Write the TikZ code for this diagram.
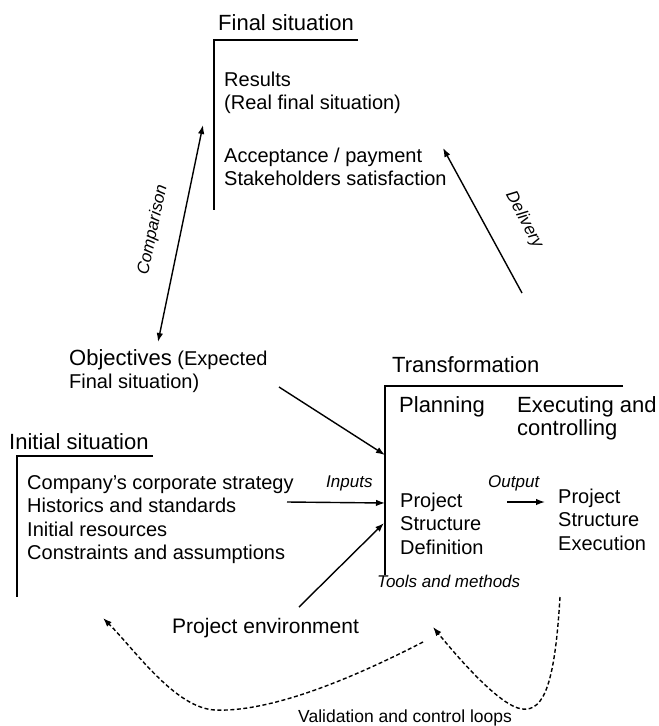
\documentclass[tikz,border=0pt]{standalone}
\usepackage{fontspec}
\setmainfont{Liberation Sans}
\usetikzlibrary{arrows.meta}

% lines of a text block, first baseline at the node's base
\newcommand\txtlines[1]{\begin{tabular}[t]{@{}l@{}}#1\end{tabular}}

\tikzset{
  head/.style={font=\fontsize{22}{26}\selectfont},
  body/.style={font=\fontsize{20}{23.5}\selectfont},
  lbl/.style={font=\fontsize{17}{20}\selectfont\itshape, inner sep=0pt},
  txt/.style={inner sep=0pt, anchor=base west},
  frame/.style={line width=1.3pt},
  flow/.style={line width=1.4pt, -{Latex[length=9pt,width=6.5pt]}},
  loopback/.style={line width=1.4pt, dash pattern=on 4pt off 2.5pt, -{Latex[length=9pt,width=6.5pt]}},
}

\begin{document}
\begin{tikzpicture}[x=1pt,y=-1pt]
    \useasboundingbox[fill=white] (0,0) rectangle (659,726);

    % final situation
    \node[txt,head] (fintitle) at (218,30) {Final situation};
    \coordinate (finC) at (214,40);
    \coordinate (finE) at (358,40);
    \coordinate (finB) at (214,210);
    \draw[frame] (finE) -- (finC) -- (finB);
    \node[txt,body] (results) at (224,86) {\txtlines{Results\\(Real final situation)}};
    \node[txt,body] (accept) at (224,162) {\txtlines{Acceptance / payment\\Stakeholders satisfaction}};

    % objectives
    \node[txt,body] (obj) at (69,365) {\txtlines{{\fontsize{22}{26}\selectfont Objectives} (Expected\\Final situation)}};

    % comparison and delivery
    \coordinate (cmpT) at (203,125);
    \coordinate (cmpB) at (158,342);
    \draw[line width=1.4pt, {Latex[length=9pt,width=6.5pt]}-{Latex[length=9pt,width=6.5pt]}] (cmpB) -- (cmpT);
    \node[lbl, rotate=78] (cmp) at (153,230) {Comparison};
    \coordinate (dlvS) at (522,293);
    \coordinate (dlvE) at (443,148);
    \draw[flow] (dlvS) -- (dlvE);
    \node[lbl, rotate=-62] (dlv) at (524,220) {Delivery};

    % transformation
    \node[txt,head] (trftitle) at (392,372) {Transformation};
    \coordinate (trfC) at (385,386);
    \coordinate (trfE) at (623,386);
    \coordinate (trfB) at (385,575);
    \draw[frame] (trfE) -- (trfC) -- (trfB);
    \node[txt,head] (plan) at (399,412) {Planning};
    \node[txt,font=\fontsize{22}{23.5}\selectfont] (exec) at (517,412) {\txtlines{Executing and\\controlling}};
    \node[txt,body] (psd) at (400,507) {\txtlines{Project\\Structure\\Definition}};
    \node[txt,body] (pse) at (558,503) {\txtlines{Project\\Structure\\Execution}};
    \node[txt,lbl] (output) at (488,487) {Output};
    \node[txt,lbl] (tools) at (377,587) {Tools and methods};
    \coordinate (outS) at (507,502);
    \coordinate (outE) at (545,502);
    \draw[flow] (outS) -- (outE);

    % initial situation
    \node[txt,head] (initle) at (9,449) {Initial situation};
    \coordinate (iniC) at (17,456);
    \coordinate (iniE) at (153,456);
    \coordinate (iniB) at (17,597);
    \draw[frame] (iniE) -- (iniC) -- (iniB);
    \node[txt,body] (initext) at (27,489) {\txtlines{Company's corporate strategy\\Historics and standards\\Initial resources\\Constraints and assumptions}};
    \node[txt,lbl] (inputs) at (326,487) {Inputs};

    % project environment
    \node[txt,font=\fontsize{21}{25}\selectfont] (env) at (172,633) {Project environment};

    % inputs into transformation
    \coordinate (objOut) at (279,387);
    \coordinate (objIn) at (385,455);
    \coordinate (iniOut) at (287,502);
    \coordinate (iniIn) at (385,503);
    \coordinate (envOut) at (299,607);
    \coordinate (envIn) at (384,523);
    \draw[flow] (objOut) -- (objIn);
    \draw[flow] (iniOut) -- (iniIn);
    \draw[flow] (envOut) -- (envIn);

    % validation and control loops
    \coordinate (lpA) at (423,642);
    \coordinate (lpAlow) at (215,710);
    \coordinate (lpAend) at (103,618);
    \coordinate (lpB) at (560,597);
    \coordinate (lpBlow) at (522,709);
    \coordinate (lpBend) at (433,627);
    \draw[loopback] (lpA) .. controls (330,690) and (260,712) .. (lpAlow)
        .. controls (175,708) and (135,650) .. (lpAend);
    \draw[loopback] (lpB) .. controls (555,680) and (545,712) .. (lpBlow)
        .. controls (500,706) and (460,660) .. (lpBend);
    \node[txt,font=\fontsize{17.5}{21}\selectfont] (valid) at (298,722) {Validation and control loops};
\end{tikzpicture}
\end{document}
